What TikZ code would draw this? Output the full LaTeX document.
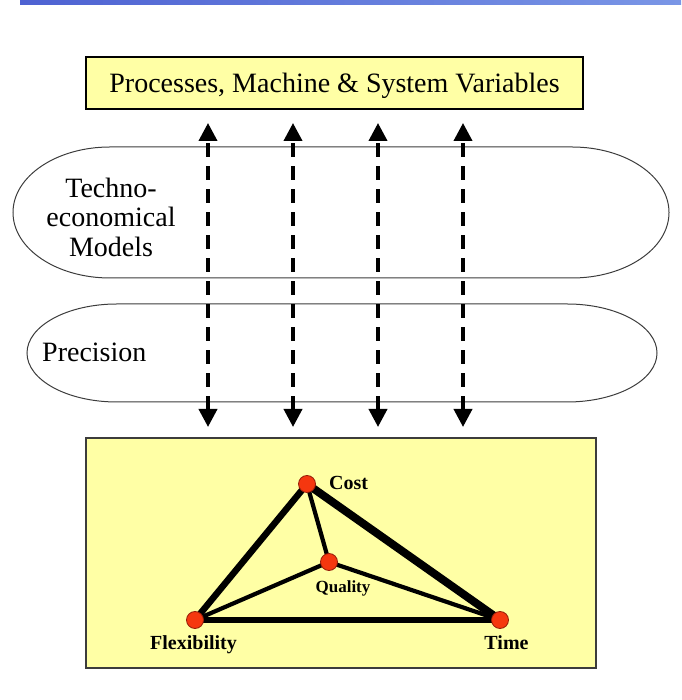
\documentclass[tikz,border=0pt]{standalone}
\usepackage{fontspec}
\setmainfont{Liberation Serif}
\usetikzlibrary{arrows.meta}
\definecolor{boxyellow}{RGB}{255,255,165}
\definecolor{barleft}{RGB}{78,98,210}
\definecolor{barright}{RGB}{122,150,230}
\definecolor{dotred}{RGB}{245,55,15}
\definecolor{dotrim}{RGB}{150,30,10}
\definecolor{outline}{RGB}{60,60,60}
\tikzset{
  bigtext/.style={font=\fontsize{28}{30}\selectfont, inner sep=0pt},
  labtext/.style={font=\fontsize{20}{22}\selectfont\bfseries, inner sep=0pt},
  smalllab/.style={font=\fontsize{17}{19}\selectfont\bfseries, inner sep=0pt},
  stadium/.style={draw=outline, line width=1pt},
  dasharrow/.style={line width=3.8pt, dash pattern=on 14pt off 9pt,
    {Triangle[length=18pt,width=18pt]}-{Triangle[length=18pt,width=18pt]}},
  vertex/.style={circle, fill=dotred, draw=dotrim, line width=0.8pt, minimum size=17pt, inner sep=0pt},
  edge/.style={line width=#1, line cap=round},
}
\begin{document}
\begin{tikzpicture}[x=1pt,y=1pt]
\useasboundingbox (0,0) rectangle (681,700);
% top gradient bar
\shade[left color=barleft, right color=barright] (20,695) rectangle (681,700);
% top box
\node[draw=black, line width=2.2pt, fill=boxyellow, minimum width=497pt, minimum height=52pt, inner sep=0pt] (top) at (334.5,617) {};
\node[bigtext] (toptext) at (334.5,614) {Processes, Machine \& System Variables};
% stadium 1
\draw[stadium] (110,553) -- (572,553) arc[start angle=90, end angle=-90, x radius=97, y radius=65.5]
  -- (110,422) arc[start angle=270, end angle=90, x radius=97, y radius=65.5] -- cycle;
\node[bigtext, anchor=base] (tm1) at (111,502) {Techno-};
\node[bigtext, anchor=base] (tm2) at (111,473) {economical};
\node[bigtext, anchor=base] (tm3) at (111,443) {Models};
% stadium 2
\draw[stadium] (117,396) -- (567,396) arc[start angle=90, end angle=-90, x radius=90, y radius=49]
  -- (117,298) arc[start angle=270, end angle=90, x radius=90, y radius=49] -- cycle;
\node[bigtext, anchor=base west] (prec) at (42,338) {Precision};
% bottom box
\node[draw=outline, line width=1.3pt, fill=boxyellow, minimum width=510pt, minimum height=230pt, inner sep=0pt] (bottom) at (341,147) {};
% dashed arrows
\foreach \i/\x in {1/208,2/293,3/378,4/463}{
  \coordinate (t\i) at (\x,577);
  \coordinate (b\i) at (\x,273);
  \draw[dasharrow] (b\i) -- (t\i);
}
% triangle
\coordinate (C) at (307,216);
\coordinate (Q) at (329,138);
\coordinate (F) at (195,80);
\coordinate (T) at (500,80);
\draw[edge=8pt] (C) -- (T);
\draw[edge=6.5pt] (C) -- (F);
\draw[edge=6pt] (F) -- (T);
\draw[edge=4.2pt] (C) -- (Q);
\draw[edge=4.2pt] (Q) -- (F);
\draw[edge=4.2pt] (Q) -- (T);
\node[vertex] (cost) at (C) {};
\node[vertex] (quality) at (Q) {};
\node[vertex] (flex) at (F) {};
\node[vertex] (time) at (T) {};
\node[labtext, anchor=base west] (costl) at (329,210) {Cost};
\node[smalllab, anchor=base] (qualityl) at (343,107) {Quality};
\node[labtext, anchor=base] (flexl) at (193.5,50) {Flexibility};
\node[labtext, anchor=base] (timel) at (506.5,50) {Time};
\end{tikzpicture}
\end{document}
